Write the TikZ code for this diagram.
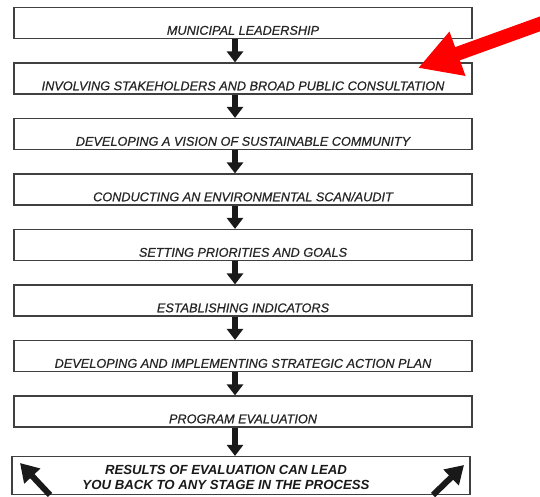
\documentclass[tikz,border=0pt]{standalone}
\usepackage{fontspec}
\setmainfont{Liberation Sans}
\newfontfamily\stagefont[FakeBold=0.6]{Liberation Sans}
\usepackage{tikz}
\usetikzlibrary{arrows.meta}

\tikzset{
  stage/.style={draw=black!75, line width=1.2pt, minimum width=458pt, minimum height=31pt,
    inner sep=0pt, text height=23.5pt, text depth=0pt, text=black!85,
    font=\stagefont\fontsize{12.7}{14}\selectfont\itshape},
  down/.style={line width=6pt, black!90, -{Triangle[width=16pt,length=11pt]}},
  back/.style={line width=6pt, black!90, -{Triangle[width=21pt,length=18pt]}},
}

\begin{document}
\begin{tikzpicture}[x=1pt,y=-1pt]
\useasboundingbox[fill=white] (0,0) rectangle (540,496);

\node[stage] (s1) at (243,23)    {MUNICIPAL LEADERSHIP};
\node[stage] (s2) at (243,78.5)  {INVOLVING STAKEHOLDERS AND BROAD PUBLIC CONSULTATION};
\node[stage] (s3) at (243,134)   {DEVELOPING A VISION OF SUSTAINABLE COMMUNITY};
\node[stage] (s4) at (243,189.5) {CONDUCTING AN ENVIRONMENTAL SCAN/AUDIT};
\node[stage] (s5) at (243,245)   {SETTING PRIORITIES AND GOALS};
\node[stage] (s6) at (243,300.5) {ESTABLISHING INDICATORS};
\node[stage] (s7) at (243,356)   {DEVELOPING AND IMPLEMENTING STRATEGIC ACTION PLAN};
\node[stage] (s8) at (243,411.5) {PROGRAM EVALUATION};
\node[stage, minimum height=38pt] (res) at (241,475.5) {};
\node[align=center, text=black!90, inner sep=0pt, font=\fontsize{13.2}{15}\selectfont\bfseries\itshape]
  (restext) at (226,477) {RESULTS OF EVALUATION CAN LEAD\\YOU BACK TO ANY STAGE IN THE PROCESS};

\draw[down] ([xshift=-8pt]s1.south) -- ([xshift=-8pt]s2.north);
\draw[down] ([xshift=-8pt]s2.south) -- ([xshift=-8pt]s3.north);
\draw[down] ([xshift=-8pt]s3.south) -- ([xshift=-8pt]s4.north);
\draw[down] ([xshift=-8pt]s4.south) -- ([xshift=-8pt]s5.north);
\draw[down] ([xshift=-8pt]s5.south) -- ([xshift=-8pt]s6.north);
\draw[down] ([xshift=-8pt]s6.south) -- ([xshift=-8pt]s7.north);
\draw[down] ([xshift=-8pt]s7.south) -- ([xshift=-8pt]s8.north);
\draw[down] ([xshift=-8pt]s8.south) -- ([xshift=-6pt]res.north);

\coordinate (ltail) at (50,495);
\coordinate (lhead) at (20,463);
\coordinate (rtail) at (433,495);
\coordinate (rhead) at (464,465);
\draw[back] (ltail) -- (lhead);
\draw[back] (rtail) -- (rhead);

\coordinate (redtail) at (548,21);
\coordinate (redtip) at (418,68);
\draw[line width=14pt, red, -{Triangle[width=44pt,length=42pt]}] (redtail) -- (redtip);

\end{tikzpicture}
\end{document}
